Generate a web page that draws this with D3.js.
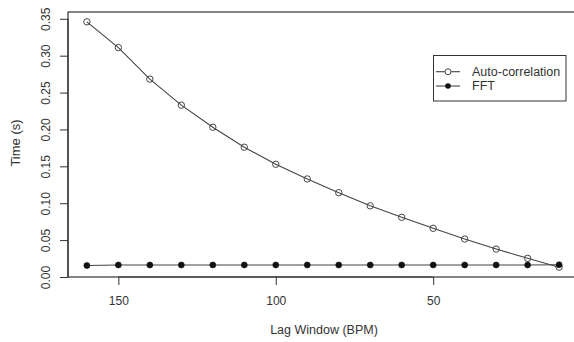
<!DOCTYPE html>
<html>
<head>
<meta charset="utf-8">
<script src="https://d3js.org/d3.v7.min.js"></script>
<style>
  html, body { margin: 0; padding: 0; background: #fff; }
  svg { display: block; font-family: "Liberation Sans", Arial, Helvetica, sans-serif; }
</style>
</head>
<body>
<svg id="chart" width="574" height="342"></svg>
<script>
const lagWindow = [160, 150, 140, 130, 120, 110, 100, 90, 80, 70, 60, 50, 40, 30, 20, 10];
const autoCorr  = [0.3459, 0.311, 0.2682, 0.2329, 0.203, 0.1759, 0.1528, 0.1329, 0.1143, 0.0965, 0.0809, 0.066, 0.0515, 0.0379, 0.0253, 0.0133];
const fftTime   = [0.0155, 0.0163, 0.0163, 0.0163, 0.0163, 0.0163, 0.0163, 0.0163, 0.0163, 0.0163, 0.0163, 0.0163, 0.0163, 0.0163, 0.0163, 0.0166];
const xTicks = [150, 100, 50];
const yTicks = [0.00, 0.05, 0.10, 0.15, 0.20, 0.25, 0.30, 0.35];
const seriesNames = ["Auto-correlation", "FFT"];

const svg = d3.select("#chart");
const ink = "#333";
const pLeft = 68, pTop = 12, pRight = 578, pBottom = 277;

function padded(ext) { const d = (ext[1] - ext[0]) * 0.04; return [ext[0] - d, ext[1] + d]; }
const xExt = padded(d3.extent(lagWindow));
const yExt = padded(d3.extent(autoCorr.concat(fftTime)));

const x = d3.scaleLinear().domain([xExt[1], xExt[0]]).range([pLeft, pRight]);
const y = d3.scaleLinear().domain(yExt).range([pBottom, pTop]);

// box
svg.append("rect").attr("x", pLeft).attr("y", pTop).attr("width", pRight - pLeft).attr("height", pBottom - pTop)
  .attr("fill", "none").attr("stroke", ink).attr("stroke-width", 1.2);

// x axis
const gx = svg.append("g").attr("transform", `translate(0,${pBottom})`)
  .call(d3.axisBottom(x).tickValues(xTicks).tickSize(8).tickSizeOuter(0).tickPadding(11.5).tickFormat(d3.format("d")));
gx.select(".domain").attr("d", `M${x(xTicks[0])},0H${x(xTicks[xTicks.length-1])}`).attr("stroke", ink).attr("stroke-width", 1.2);
gx.selectAll(".tick line").attr("stroke", ink);
gx.selectAll(".tick text").attr("fill", ink).style("font-size", "12px").style("font-family", "Liberation Sans, Arial, sans-serif");

// y axis
const gy = svg.append("g").attr("transform", `translate(${pLeft},0)`)
  .call(d3.axisLeft(y).tickValues(yTicks).tickSize(8).tickSizeOuter(0).tickFormat(d3.format(".2f")));
gy.select(".domain").attr("d", `M0,${y(yTicks[0])}V${y(yTicks[yTicks.length-1])}`).attr("stroke", ink).attr("stroke-width", 1.2);
gy.selectAll(".tick line").attr("stroke", ink);
gy.selectAll(".tick text").attr("fill", ink).style("font-size", "12px").style("font-family", "Liberation Sans, Arial, sans-serif")
  .attr("x", null).attr("dy", null)
  .attr("text-anchor", "middle").attr("dominant-baseline", "central")
  .attr("transform", "translate(-22,0) rotate(-90)");

// axis titles
svg.append("text").attr("x", 324).attr("y", 333.5).attr("text-anchor", "middle").attr("fill", ink)
  .style("font-size", "12.5px").text("Lag Window (BPM)");
svg.append("text").attr("transform", `translate(19.5,143) rotate(-90)`).attr("text-anchor", "middle")
  .attr("fill", ink).style("font-size", "13px").text("Time (s)");

// lines
const line = d3.line().x((d, i) => x(lagWindow[i])).y(d => y(d));
svg.append("path").datum(autoCorr).attr("d", line).attr("fill", "none").attr("stroke", "#444").attr("stroke-width", 1.1);
svg.append("path").datum(fftTime).attr("d", line).attr("fill", "none").attr("stroke", "#444").attr("stroke-width", 1.1);

// points
svg.append("g").selectAll("circle").data(autoCorr).join("circle")
  .attr("cx", (d, i) => x(lagWindow[i])).attr("cy", d => y(d)).attr("r", 3.2)
  .attr("fill", "none").attr("stroke", "#444").attr("stroke-width", 1);
svg.append("g").selectAll("circle").data(fftTime).join("circle")
  .attr("cx", (d, i) => x(lagWindow[i])).attr("cy", d => y(d)).attr("r", 3)
  .attr("fill", "#111").attr("stroke", "#111").attr("stroke-width", 0.6);

// legend
const lg = svg.append("g");
lg.append("rect").attr("x", 433.5).attr("y", 55.5).attr("width", 132.5).attr("height", 45.5)
  .attr("fill", "#fff").attr("stroke", ink).attr("stroke-width", 1);
const rows = [71.7, 86];
seriesNames.forEach((name, i) => {
  lg.append("line").attr("x1", 436).attr("x2", 460).attr("y1", rows[i]).attr("y2", rows[i])
    .attr("stroke", "#444").attr("stroke-width", 1.1);
  const c = lg.append("circle").attr("cx", 448).attr("cy", rows[i]).attr("r", i === 0 ? 3 : 2.8);
  if (i === 0) c.attr("fill", "#fff").attr("stroke", "#444");
  else c.attr("fill", "#111");
  lg.append("text").attr("x", 472).attr("y", rows[i]).attr("dominant-baseline", "central")
    .attr("fill", ink).style("font-size", "12.5px").text(name);
});
</script>
</body>
</html>
